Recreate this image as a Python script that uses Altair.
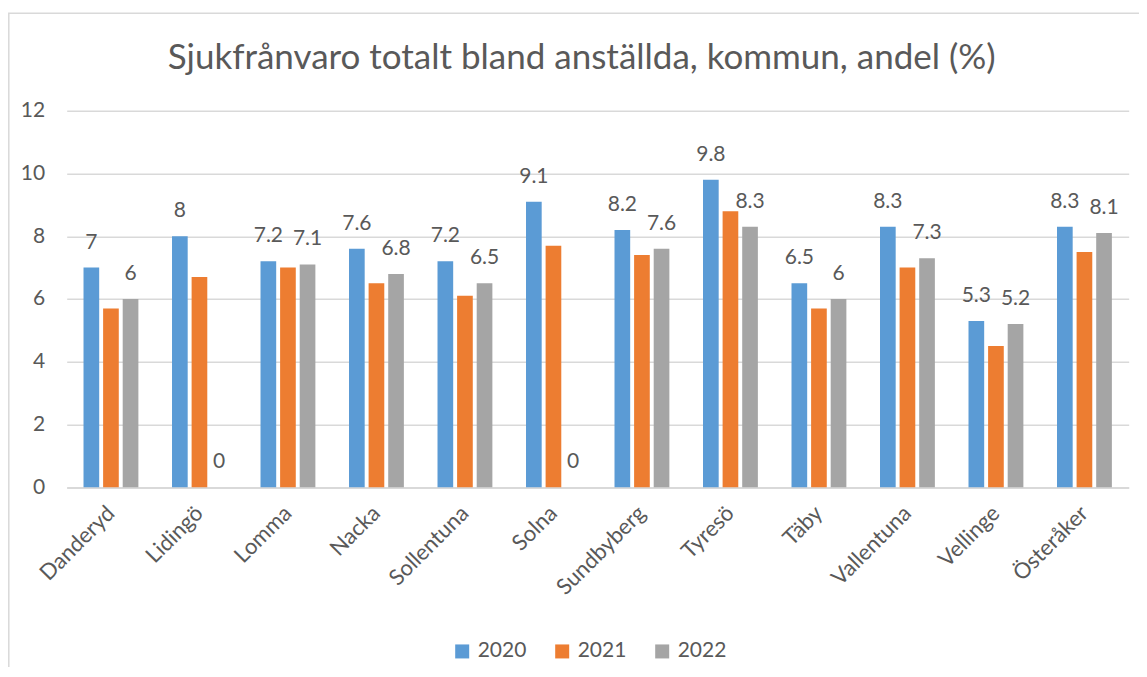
import altair as alt
import pandas as pd

categories = ["Danderyd", "Lidingö", "Lomma", "Nacka", "Sollentuna", "Solna",
              "Sundbyberg", "Tyresö", "Täby", "Vallentuna", "Vellinge", "Österåker"]
years = ["2020", "2021", "2022"]
v2020 = [7, 8, 7.2, 7.6, 7.2, 9.1, 8.2, 9.8, 6.5, 8.3, 5.3, 8.3]
v2021 = [5.7, 6.7, 7.0, 6.5, 6.1, 7.7, 7.4, 8.8, 5.7, 7.0, 4.5, 7.5]
v2022 = [6, None, 7.1, 6.8, 6.5, None, 7.6, 8.3, 6, 7.3, 5.2, 8.1]
labelled_years = ["2020", "2022"]
colors = ["#5B9BD5", "#ED7D31", "#A5A5A5"]
title_text = "Sjukfrånvaro totalt bland anställda, kommun, andel (%)"

rows = []
for yr, vals in zip(years, [v2020, v2021, v2022]):
    for c, v in zip(categories, vals):
        rows.append({"kommun": c, "year": yr, "value": v})
df = pd.DataFrame(rows)
bars_df = df.dropna(subset=["value"])
labels_df = df[df["year"].isin(labelled_years)].copy()
labels_df["value"] = labels_df["value"].fillna(0)
labels_df["label"] = labels_df["value"].map(lambda v: f"{v:g}")

FONT = "Lato"
GREY_TEXT = "#595959"
W, H = 1062, 376.6

x_enc = alt.X("kommun:N", sort=categories, title=None,
              scale=alt.Scale(paddingInner=0.38, paddingOuter=0.19),
              axis=alt.Axis(labelAngle=-45, labelAlign="right", labelBaseline="middle",
                            labelFontSize=22, labelFont=FONT, labelColor=GREY_TEXT,
                            labelPadding=22, ticks=False, domainColor="#d9d9d9",
                            domainWidth=1.5))
xo_enc = alt.XOffset("year:N", sort=years, scale=alt.Scale(paddingInner=0.2, paddingOuter=0))
y_enc = alt.Y("value:Q", title=None,
              scale=alt.Scale(domain=[0, 12], nice=False),
              axis=alt.Axis(values=[0, 2, 4, 6, 8, 10, 12], labelFontSize=21, labelFont=FONT,
                            labelColor=GREY_TEXT, labelPadding=22, ticks=False, domain=False,
                            gridColor="#d9d9d9", gridWidth=1.5))

bars = alt.Chart(bars_df).mark_bar().encode(
    x=x_enc, xOffset=xo_enc, y=y_enc,
    color=alt.Color("year:N", sort=years, scale=alt.Scale(domain=years, range=colors),
                    legend=alt.Legend(title=None, orient="none", direction="horizontal",
                                      legendX=385, legendY=530, symbolType="square",
                                      symbolSize=196, symbolStrokeWidth=0,
                                      labelFontSize=21, labelFont=FONT, labelColor=GREY_TEXT,
                                      labelOffset=5, columnPadding=25)),
)

texts = alt.Chart(labels_df).mark_text(baseline="middle", dy=-25, fontSize=21, font=FONT,
                                       color=GREY_TEXT).encode(
    x=alt.X("kommun:N", sort=categories),
    xOffset=alt.XOffset("year:N", sort=years),
    y=alt.Y("value:Q"),
    text="label:N",
)

frame = alt.Chart(pd.DataFrame({"a": [0]})).mark_rect(
    fillOpacity=0, stroke="#d9d9d9", strokeWidth=1.5).encode(
    x=alt.value(-57.9), x2=alt.value(1300), y=alt.value(-97.5), y2=alt.value(800))

title = alt.Chart(pd.DataFrame({"t": [title_text]})).mark_text(
    fontSize=35, font=FONT, color=GREY_TEXT, align="center", baseline="middle").encode(
    x=alt.value(W / 2 - 16), y=alt.value(-53), text="t:N")

chart = alt.layer(frame, bars, texts, title).properties(
    width=W, height=H,
    autosize=alt.AutoSizeParams(type="none"),
    padding={"left": 58.7, "top": 102.7, "right": 10, "bottom": 180},
).configure_view(stroke=None)

chart.save("out.html", embed_options={"renderer": "svg", "actions": False})
